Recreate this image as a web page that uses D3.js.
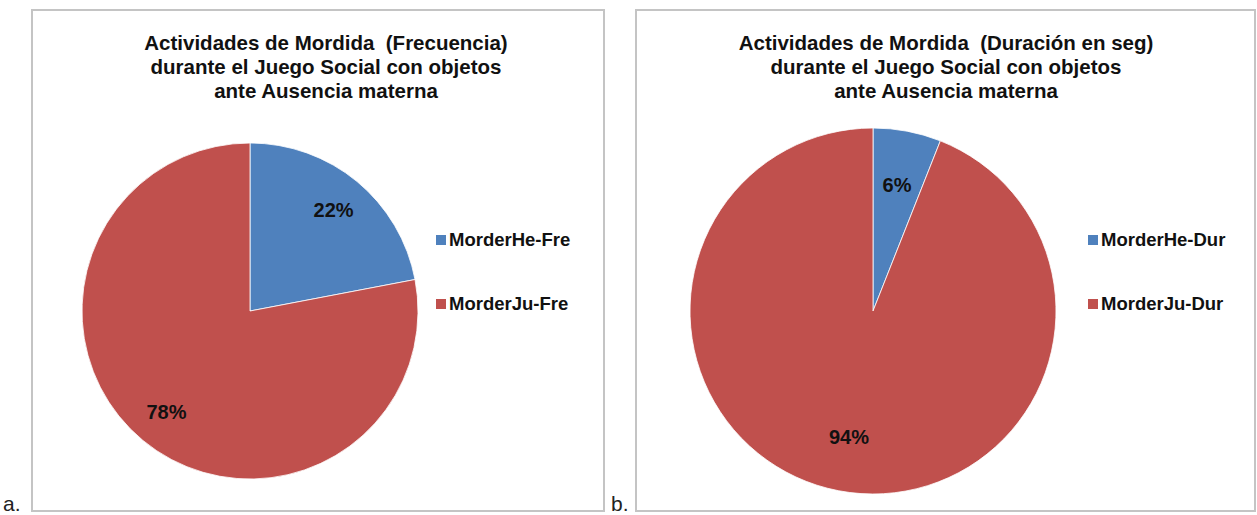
<!DOCTYPE html>
<html>
<head>
<meta charset="utf-8">
<script src="https://cdn.jsdelivr.net/npm/d3@7"></script>
<style>
  body { margin: 0; background: #fff; }
  svg { display: block; font-family: "Liberation Sans", Arial, sans-serif; }
  .title { white-space: pre; }
</style>
</head>
<body>
<div id="chart"></div>
<script>
// Data
var panelTags = ["a.", "b."];

var titleA = ["Actividades de Mordida  (Frecuencia)", "durante el Juego Social con objetos", "ante Ausencia materna"];
var titleB = ["Actividades de Mordida  (Duración en seg)", "durante el Juego Social con objetos", "ante Ausencia materna"];

var categoriesA = ["MorderHe-Fre", "MorderJu-Fre"];
var valuesA = [22, 78];

var categoriesB = ["MorderHe-Dur", "MorderJu-Dur"];
var valuesB = [6, 94];

var colors = ["#4F81BD", "#C0504D"];

var W = 1257, H = 515;

var svg = d3.select("#chart").append("svg")
  .attr("width", W)
  .attr("height", H);

// layout of each panel (box, pie, legend, title)
var panels = [
  { tag: panelTags[0], title: titleA, cats: categoriesA, vals: valuesA,
    box: [32, 10, 572, 501], tagX: 3, cx: 250, cy: 311, r: 168, titleX: 326,
    legX: 436, labR: 0.78 },
  { tag: panelTags[1], title: titleB, cats: categoriesB, vals: valuesB,
    box: [636, 10, 619, 501], tagX: 611, cx: 873, cy: 311, r: 183, titleX: 946,
    legX: 1088, labR: 0.7 }
];

var pie = d3.pie().sort(null).value(function (d) { return d; });

panels.forEach(function (p) {
  var g = svg.append("g");

  // chart frame
  g.append("rect")
    .attr("x", p.box[0]).attr("y", p.box[1])
    .attr("width", p.box[2]).attr("height", p.box[3])
    .style("fill", "#fff")
    .style("stroke", "#c4c4c4")
    .style("stroke-width", 2);

  g.append("text")
    .attr("x", p.tagX).attr("y", 511)
    .style("font-size", "21px")
    .style("fill", "#222")
    .text(p.tag);

  // title
  g.selectAll(".title").data(p.title).enter().append("text")
    .attr("class", "title")
    .attr("x", p.titleX)
    .attr("y", function (d, i) { return 50 + i * 24; })
    .attr("text-anchor", "middle")
    .style("font-size", "20.5px")
    .style("font-weight", "bold")
    .style("fill", "#111")
    .text(function (d) { return d; });

  var arcs = pie(p.vals);
  var arc = d3.arc().innerRadius(0).outerRadius(p.r);
  var labArc = d3.arc().innerRadius(p.r * p.labR).outerRadius(p.r * p.labR);

  var pg = g.append("g").attr("transform", "translate(" + p.cx + "," + p.cy + ")");

  pg.selectAll("path").data(arcs).enter().append("path")
    .attr("d", arc)
    .style("fill", function (d, i) { return colors[i]; })
    .style("stroke", "#fff")
    .style("stroke-width", 0.8);

  pg.selectAll(".lab").data(arcs).enter().append("text")
    .attr("class", "lab")
    .attr("transform", function (d) { return "translate(" + labArc.centroid(d) + ")"; })
    .attr("text-anchor", "middle")
    .attr("dy", "0.35em")
    .style("font-size", "20px")
    .style("font-weight", "bold")
    .style("fill", "#111")
    .text(function (d) { return d.data + "%"; });

  // legend
  var leg = g.selectAll(".leg").data(p.cats).enter().append("g")
    .attr("class", "leg")
    .attr("transform", function (d, i) { return "translate(" + p.legX + "," + (240 + i * 64) + ")"; });

  leg.append("rect")
    .attr("x", 0).attr("y", -5)
    .attr("width", 10).attr("height", 10)
    .style("fill", function (d, i) { return colors[i]; });

  leg.append("text")
    .attr("x", 13).attr("y", 0)
    .attr("dy", "0.35em")
    .style("font-size", "18.5px")
    .style("font-weight", "bold")
    .style("fill", "#111")
    .text(function (d) { return d; });
});
</script>
</body>
</html>
